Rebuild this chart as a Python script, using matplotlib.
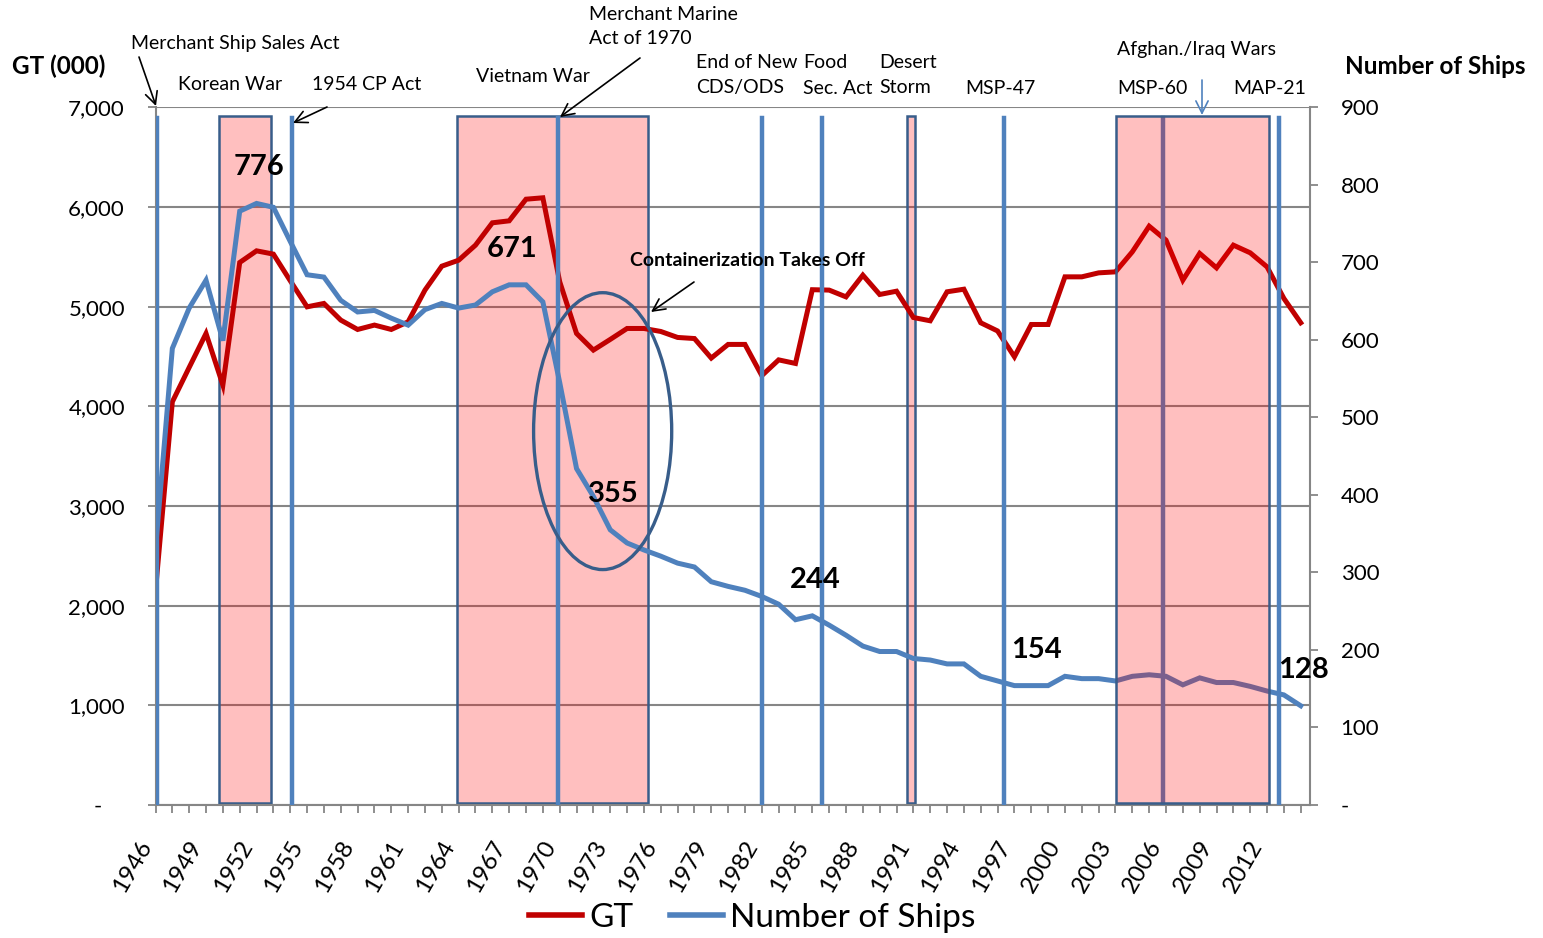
import matplotlib
matplotlib.use('Agg')
import matplotlib.pyplot as plt
import matplotlib.transforms as mtransforms
from matplotlib.patches import Rectangle, Ellipse
from matplotlib.lines import Line2D

plt.rcParams['font.family'] = ['Lato', 'DejaVu Sans']

# data
years = list(range(1946, 2015))
gt = [2150, 4045, 4390, 4731, 4213, 5443, 5560, 5527, 5260, 4998,
      5032, 4865, 4771, 4815, 4771, 4848, 5166, 5406, 5466, 5617,
      5841, 5861, 6078, 6092, 5250, 4731, 4564, 4671, 4781, 4781,
      4751, 4691, 4680, 4484, 4621, 4621, 4308, 4466, 4430, 5170,
      5166, 5098, 5316, 5122, 5155, 4891, 4858, 5149, 5175, 4838,
      4756, 4497, 4821, 4821, 5299, 5299, 5339, 5349, 5550, 5807,
      5667, 5266, 5534, 5389, 5617, 5540, 5399, 5082, 4838]
ships = [330, 589, 641, 677, 599, 766, 776, 771, 727, 684,
         681, 651, 636, 638, 628, 619, 639, 647, 641, 645,
         662, 671, 671, 649, 545, 434, 398, 355, 338, 329,
         321, 312, 307, 288, 282, 277, 269, 259, 239, 244,
         232, 219, 205, 198, 198, 189, 187, 182, 182, 166,
         160, 154, 154, 154, 166, 163, 163, 160, 166, 168,
         166, 155, 164, 158, 158, 153, 147, 142, 128]
tick_years = list(range(1946, 2013, 3))

# shaded periods and policy events (years)
war_spans = [(1949.77, 1952.86), (1963.9, 1975.25), (1990.6, 1991.1)]
gwot_span = (2003.03, 2012.1)
event_years = [1946.1, 1954.1, 1969.9, 1982.0, 1985.6, 1996.4, 2005.85, 2012.7]
labelled_years = [1952, 1967, 1973, 1985, 1997, 2014]

RED = '#C00000'
BLUE = '#4F81BD'
EDGE = '#385D8A'
GRID = '#868686'
FILL = (1, 0, 0, 0.25)
W, H = 1543, 938

fig = plt.figure(figsize=(W / 100, H / 100), dpi=100)
ax = fig.add_axes([155.5 / W, 1 - 805 / H, (1310 - 155.5) / W, (805 - 107.3) / H])
ax2 = ax.twinx()

ax.set_xlim(years[0], years[-1] + 0.55)
ax.set_ylim(0, 7000)
ax2.set_ylim(0, 900)

# gridlines
gt_ticks = list(range(0, 7001, 1000))
ax.set_yticks(gt_ticks)
ax.set_yticklabels([f'{v:,}' if v else '-    ' for v in gt_ticks])
ax.yaxis.grid(True, color=GRID, lw=1.5)
ax.set_axisbelow(True)

ship_ticks = list(range(0, 901, 100))
ax2.set_yticks(ship_ticks)
ax2.set_yticklabels([str(v) if v else '-' for v in ship_ticks])

ax.set_xticks(tick_years)
ax.set_xticks(years, minor=True)
ax.set_xticklabels([str(y) for y in tick_years], rotation=60, ha='right', va='top')
shift = mtransforms.ScaledTranslation(5 / 100, 0, fig.dpi_scale_trans)
for lab in ax.get_xticklabels():
    lab.set_transform(lab.get_transform() + shift)

ax.tick_params(axis='x', which='both', direction='out', length=6, width=1.3,
               color=GRID, labelsize=17.5, pad=17)
ax.tick_params(axis='y', direction='out', length=6, width=1.3, color=GRID,
               labelsize=16, pad=16)
ax2.tick_params(axis='y', direction='out', length=6, width=1.3, color=GRID,
                labelsize=16, pad=16)

for s in ['top', 'right']:
    ax.spines[s].set_visible(False)
for s in ['left', 'bottom']:
    ax.spines[s].set_color(GRID)
    ax.spines[s].set_linewidth(1.5)
for s in ['top', 'left', 'bottom']:
    ax2.spines[s].set_visible(False)
ax2.spines['right'].set_color(GRID)
ax2.spines['right'].set_linewidth(1.5)

# shaded war periods
blend = mtransforms.blended_transform_factory(ax.transData, ax.transAxes)
for x0, x1 in war_spans:
    ax.add_patch(Rectangle((x0, 0.003), x1 - x0, 0.985, transform=blend,
                           facecolor=FILL, edgecolor=EDGE, lw=1.8, zorder=1))

# lines
ax.plot(years, gt, color=RED, lw=3.6, zorder=3, solid_joinstyle='miter')
ax2.plot(years, ships, color=BLUE, lw=3.6, zorder=2, solid_joinstyle='miter')

for x in event_years:
    ax2.axvline(x, ymin=-0.004, ymax=0.984, color=BLUE, lw=3.2, zorder=3)

blend2 = mtransforms.blended_transform_factory(ax2.transData, ax2.transAxes)
ax2.add_patch(Rectangle((gwot_span[0], 0.003), gwot_span[1] - gwot_span[0], 0.985,
                        transform=blend2, facecolor=FILL, edgecolor=EDGE,
                        lw=1.8, zorder=4))

# containerization ellipse
ell = Ellipse((1972.55, 3751), 8.2, 2778, transform=ax.transData,
              facecolor='none', edgecolor=EDGE, lw=2.4, zorder=5)
ax2.add_patch(ell)

# ship count labels
for yr in labelled_years:
    i = years.index(yr)
    dx = 16 if yr == 1997 else 2
    ax2.annotate(str(ships[i]), xy=(yr, ships[i]), xytext=(dx, 26),
                 textcoords='offset points', ha='center', va='center',
                 fontsize=21, fontweight='bold', zorder=6)

# annotation texts (pixel positions)
notes = [
    ('Merchant Ship Sales Act', 131, 44),
    ('Korean War', 178, 85),
    ('1954 CP Act', 312, 85),
    ('Vietnam War', 476, 76),
    ('Merchant Marine', 589, 14),
    ('Act of 1970', 589, 39),
    ('End of New', 696, 63),
    ('CDS/ODS', 696, 88),
    ('Food', 803, 63),
    ('Sec. Act', 803, 88),
    ('Desert', 879, 62),
    ('Storm', 879, 87),
    ('MSP-47', 965, 89),
    ('Afghan./Iraq Wars', 1117, 50),
    ('MSP-60', 1117, 89),
    ('MAP-21', 1233, 89),
]
for s, x, y in notes:
    fig.text(x / W, 1 - y / H, s, ha='left', va='center', fontsize=14)

fig.text(12 / W, 1 - 66 / H, 'GT (000)', ha='left', va='center',
         fontsize=17.5, fontweight='bold')
fig.text(1345 / W, 1 - 66 / H, 'Number of Ships', ha='left', va='center',
         fontsize=17.5, fontweight='bold')
fig.text(630 / W, 1 - 260 / H, 'Containerization Takes Off', ha='left',
         va='center', fontsize=14, fontweight='bold')

arrows = [
    ((139, 57), (156, 106), 'black'),
    ((327, 107), (293, 123), 'black'),
    ((640, 58), (560, 117), 'black'),
    ((694, 282), (651, 312), 'black'),
    ((1202, 80), (1202, 115), BLUE),
]
for (tx, ty), (hx, hy), c in arrows:
    ax2.annotate('', xy=(hx, H - hy), xytext=(tx, H - ty),
                 xycoords='figure pixels', textcoords='figure pixels',
                 arrowprops=dict(arrowstyle='->', color=c, lw=1.2,
                                 mutation_scale=22, shrinkA=0, shrinkB=0))

handles = [Line2D([], [], color=RED, lw=4), Line2D([], [], color=BLUE, lw=4)]
fig.legend(handles, ['GT', 'Number of Ships'], loc='center',
           bbox_to_anchor=(752 / W, 1 - 918 / H), ncol=2, frameon=False,
           fontsize=24, handlelength=1.6, handletextpad=0.2, columnspacing=1.1)

plt.savefig('out.png', dpi=100)
